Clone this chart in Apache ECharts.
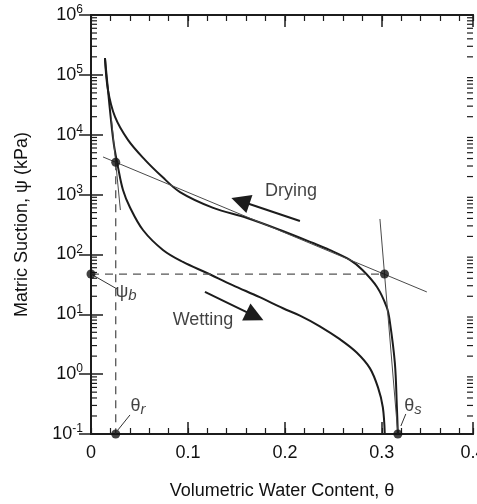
<!DOCTYPE html>
<html>
<head>
<meta charset="utf-8">
<script src="https://cdn.jsdelivr.net/npm/echarts@6/dist/echarts.min.js"></script>
<style>
html, body { margin: 0; padding: 0; background: #fff; }
#main { width: 477px; height: 504px; }
</style>
</head>
<body>
<div id="main"></div>
<script>
// soil-water characteristic curves
var dryingTheta = [0.0144, 0.0175, 0.0247, 0.0381, 0.0557, 0.0732, 0.0918, 0.126, 0.161, 0.195, 0.229, 0.246, 0.267, 0.280, 0.295, 0.305, 0.308, 0.3134, 0.3155, 0.3165];
var dryingPsi = [190000, 56000, 20000, 8200, 3800, 2000, 1100, 600, 406, 256, 155, 119, 81, 55, 28.6, 13.2, 8.0, 1.54, 0.28, 0.1];
var wettingTheta = [0.0144, 0.0175, 0.0206, 0.0237, 0.0278, 0.033, 0.040, 0.0536, 0.0742, 0.0948, 0.1196, 0.146, 0.174, 0.198, 0.2155, 0.236, 0.257, 0.274, 0.2876, 0.296, 0.301, 0.303];
var wettingPsi = [190000, 56000, 17600, 6700, 2900, 1190, 621, 256, 119, 75, 49, 30.8, 19.3, 12.6, 9.5, 6.3, 3.8, 2.3, 1.26, 0.6, 0.28, 0.1];

// construction lines
var tangentLine = [[0.0124, 4250], [0.3464, 23.6]];
var satLine = [[0.298, 391], [0.3165, 0.1]];
var resLine = [[0.021, 19000], [0.0303, 552]];
var psiB = 47, thetaR = 0.0255, thetaS = 0.3165, thetaBreak = 0.3027, psiRes = 3460;
var keyPoints = [[0, psiB], [thetaR, psiRes], [thetaBreak, psiB], [thetaR, 0.1], [thetaS, 0.1]];

// arrows and notes
var dryArrow = [[0.2155, 362], [0.1541, 782]];
var wetArrow = [[0.1175, 23.6], [0.169, 9.3]];
var notes = [
  { name: 'Drying', value: [0.2062, 1150] },
  { name: 'Wetting', value: [0.1155, 8.0] },
  { name: '{g|ψ}{s|b}', value: [0.0361, 23.6] },
  { name: '{g|θ}{s|r}', value: [0.0485, 0.294] },
  { name: '{g|θ}{s|s}', value: [0.332, 0.294] }
];
var leaders = [
  [[0, psiB], [0.0268, 26.5]],
  [[0.0278, 0.117], [0.0402, 0.208]],
  [[0.3196, 0.136], [0.3247, 0.216]]
];

// log minor ticks 2..9 in every decade
var decades = [-1, 0, 1, 2, 3, 4, 5];
var multipliers = [2, 3, 4, 5, 6, 7, 8, 9];
var logMinorTicks = [];
decades.forEach(function (d) {
  multipliers.forEach(function (m) { logMinorTicks.push([0, m * Math.pow(10, d)]); });
});

var FONT = "'Liberation Sans', Arial, sans-serif";
var INK = '#1c1c1c';
var TXT = '#111';

function zip(a, b) {
  return a.map(function (v, i) { return [v, b[i]]; });
}

var dom = document.getElementById('main');
var myChart = echarts.init(dom);

var xCommon = {
  type: 'value', min: 0, max: 0.394, gridIndex: 0,
  axisLine: { show: true, onZero: false, lineStyle: { color: INK, width: 2 } },
  splitLine: { show: false },
  axisLabel: { show: false }
};
var yCommon = {
  type: 'log', logBase: 10, min: 0.1, max: 1000000,
  axisLine: { show: true, lineStyle: { color: INK, width: 2 } },
  axisTick: { show: true, inside: true, length: 12, lineStyle: { color: INK, width: 1.5 } },
  minorTick: { show: false },
  splitLine: { show: false }
};

var option = {
  animation: false,
  backgroundColor: '#fff',
  textStyle: { fontFamily: FONT },
  grid: { left: 91, top: 15, right: 4, bottom: 70, outerBoundsMode: 'none', containLabel: false },
  xAxis: [
    Object.assign({}, xCommon, {
      position: 'bottom', interval: 0.1,
      name: 'Volumetric Water Content, θ', nameLocation: 'middle', nameGap: 48,
      nameTextStyle: { fontSize: 18, color: TXT, fontFamily: FONT },
      axisTick: { show: true, inside: true, length: 12, lineStyle: { color: INK, width: 1.5 } },
      axisLabel: {
        show: true, margin: 10, fontSize: 18, color: TXT, fontFamily: FONT,
        formatter: function (v) { return v > 0.35 ? '0.4' : (v === 0 ? '0' : v.toFixed(1)); }
      }
    }),
    Object.assign({}, xCommon, {
      position: 'bottom', interval: 0.02,
      axisTick: { show: true, inside: true, length: 6, lineStyle: { color: INK, width: 1.2 } }
    }),
    Object.assign({}, xCommon, {
      position: 'top', interval: 0.1,
      axisTick: { show: true, inside: true, length: 12, lineStyle: { color: INK, width: 1.5 } }
    }),
    Object.assign({}, xCommon, {
      position: 'top', interval: 0.02,
      axisTick: { show: true, inside: true, length: 6, lineStyle: { color: INK, width: 1.2 } }
    })
  ],
  yAxis: [
    Object.assign({}, yCommon, {
      position: 'left',
      name: 'Matric Suction, ψ (kPa)', nameLocation: 'middle', nameGap: 60, nameRotate: 90,
      nameTextStyle: { fontSize: 18, color: TXT, fontFamily: FONT },
      axisLabel: {
        show: true, margin: 8, color: TXT, fontFamily: FONT,
        formatter: function (v) {
          var e = Math.round(Math.log(v) / Math.LN10);
          return '{b|10}{s|' + e + '}';
        },
        rich: {
          b: { fontSize: 18, color: TXT, fontFamily: FONT },
          s: { fontSize: 12, color: TXT, fontFamily: FONT, padding: [0, 0, 10, 0] }
        }
      }
    }),
    Object.assign({}, yCommon, { position: 'right', axisLabel: { show: false } })
  ],
  series: [
    {
      name: 'Drying', type: 'line', data: zip(dryingTheta, dryingPsi),
      smooth: 0.35, showSymbol: false, silent: true,
      lineStyle: { color: INK, width: 2 }
    },
    {
      name: 'Wetting', type: 'line', data: zip(wettingTheta, wettingPsi),
      smooth: 0.35, showSymbol: false, silent: true,
      lineStyle: { color: INK, width: 2 }
    },
    {
      type: 'line', data: tangentLine, showSymbol: false, silent: true,
      lineStyle: { color: '#4a4a4a', width: 1 }
    },
    {
      type: 'line', data: satLine, showSymbol: false, silent: true,
      lineStyle: { color: '#4a4a4a', width: 1 }
    },
    {
      type: 'line', data: resLine, showSymbol: false, silent: true,
      lineStyle: { color: '#4a4a4a', width: 1 }
    },
    {
      type: 'line', data: [[0, psiB], [thetaBreak, psiB]], showSymbol: false, silent: true,
      lineStyle: { color: '#555', width: 1.3, type: [8, 6] }
    },
    {
      type: 'line', data: [[thetaR, psiRes], [thetaR, 0.1]], showSymbol: false, silent: true,
      lineStyle: { color: '#555', width: 1.3, type: [8, 6] }
    },
    {
      type: 'lines', coordinateSystem: 'cartesian2d', silent: true,
      data: leaders.map(function (c) { return { coords: c }; }),
      symbol: 'none',
      lineStyle: { color: '#333', width: 1, opacity: 1 }
    },
    {
      type: 'lines', coordinateSystem: 'cartesian2d', silent: true,
      data: [{ coords: dryArrow }, { coords: wetArrow }],
      symbol: ['none', 'triangle'], symbolSize: [14, 19],
      lineStyle: { color: INK, width: 2, opacity: 1 }
    },
    {
      // minor ticks of the log axis on both sides of the frame
      type: 'custom', data: logMinorTicks, silent: true, clip: false,
      renderItem: function (params, api) {
        var cs = params.coordSys;
        var py = api.coord([0, api.value(1)])[1];
        var st = { stroke: INK, lineWidth: 1.2 };
        return {
          type: 'group',
          children: [
            { type: 'line', shape: { x1: cs.x, y1: py, x2: cs.x + 6, y2: py }, style: st },
            { type: 'line', shape: { x1: cs.x + cs.width, y1: py, x2: cs.x + cs.width - 6, y2: py }, style: st }
          ]
        };
      }
    },
    {
      type: 'scatter', data: keyPoints, symbolSize: 9, clip: false, silent: true,
      itemStyle: { color: '#111' }, z: 5
    },
    {
      type: 'scatter', data: notes, symbolSize: 0, clip: false, silent: true,
      label: {
        show: true, position: 'inside', color: TXT, fontSize: 18, fontFamily: FONT,
        formatter: function (p) { return p.name; },
        rich: {
          g: { fontSize: 18, color: TXT, fontFamily: FONT },
          s: { fontSize: 15, fontStyle: 'italic', color: TXT, fontFamily: FONT, padding: [7, 0, 0, 0] }
        }
      }
    }
  ]
};

myChart.setOption(option, true);
</script>
</body>
</html>
